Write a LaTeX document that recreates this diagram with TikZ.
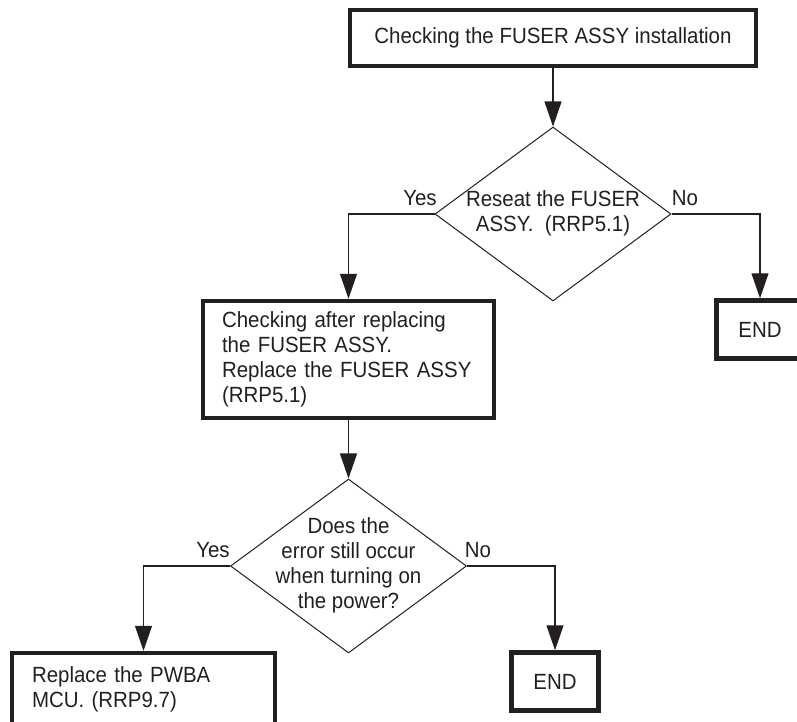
\documentclass[tikz,border=0pt]{standalone}
\usepackage{fontspec}
\setmainfont{Liberation Sans}[FakeStretch=0.93]
\usetikzlibrary{shapes.geometric,arrows.meta}
\definecolor{ink}{HTML}{231F20}
\begin{document}
\begin{tikzpicture}[x=1pt,y=-1pt,
  font=\fontsize{22}{25}\selectfont, text=ink,
  box/.style={draw=ink, line width=4.5pt, rectangle, inner sep=0pt},
  dia/.style={draw=ink, line width=1pt, diamond, minimum width=236pt, minimum height=174pt, inner sep=0pt},
  conn/.style={draw=ink, line width=1.1pt, -{Triangle[length=25pt,width=17pt]}},
  lbl/.style={inner sep=0pt, align=center}]
\useasboundingbox (0,0) rectangle (797,722);
\clip (0,0) rectangle (797,722);
% boxes
\node[box, minimum width=406pt, minimum height=56pt] (b1) at (553,38) {Checking the FUSER ASSY installation};
\node[dia] (d1) at (553,214) {};
\node[lbl] (d1t) at (553,213) {Reseat the FUSER\\ASSY.\ \ (RRP5.1)};
\node[box, minimum width=87pt, minimum height=58pt] (e1) at (760,329.5) {END};
\node[box, minimum width=291pt, minimum height=117pt, text width=253pt, align=left] (b2) at (348.5,359.5) {Checking after replacing\\the FUSER ASSY.\\Replace the FUSER ASSY\\(RRP5.1)};
\node[dia] (d2) at (348.5,566) {};
\node[lbl] (d2t) at (348.5,565) {Does the\\error still occur\\when turning on\\the power?};
\node[box, minimum width=263pt, minimum height=72pt, text width=223pt, align=left] (b3) at (143.5,689) {Replace the PWBA\\MCU. (RRP9.7)};
\node[box, minimum width=87pt, minimum height=58pt] (e2) at (555,681.5) {END};
% labels
\node[lbl] (y1) at (420,198) {Yes};
\node[lbl] (n1) at (685,198) {No};
\node[lbl] (y2) at (213,550) {Yes};
\node[lbl] (n2) at (478,550) {No};
% connectors
\draw[conn] (b1) -- (d1);
\draw[conn] (d1.west) -| (b2);
\draw[conn] (d1.east) -| (e1);
\draw[conn] (b2) -- (d2);
\draw[conn] (d2.west) -| (b3);
\draw[conn] (d2.east) -| (e2);
\end{tikzpicture}
\end{document}
